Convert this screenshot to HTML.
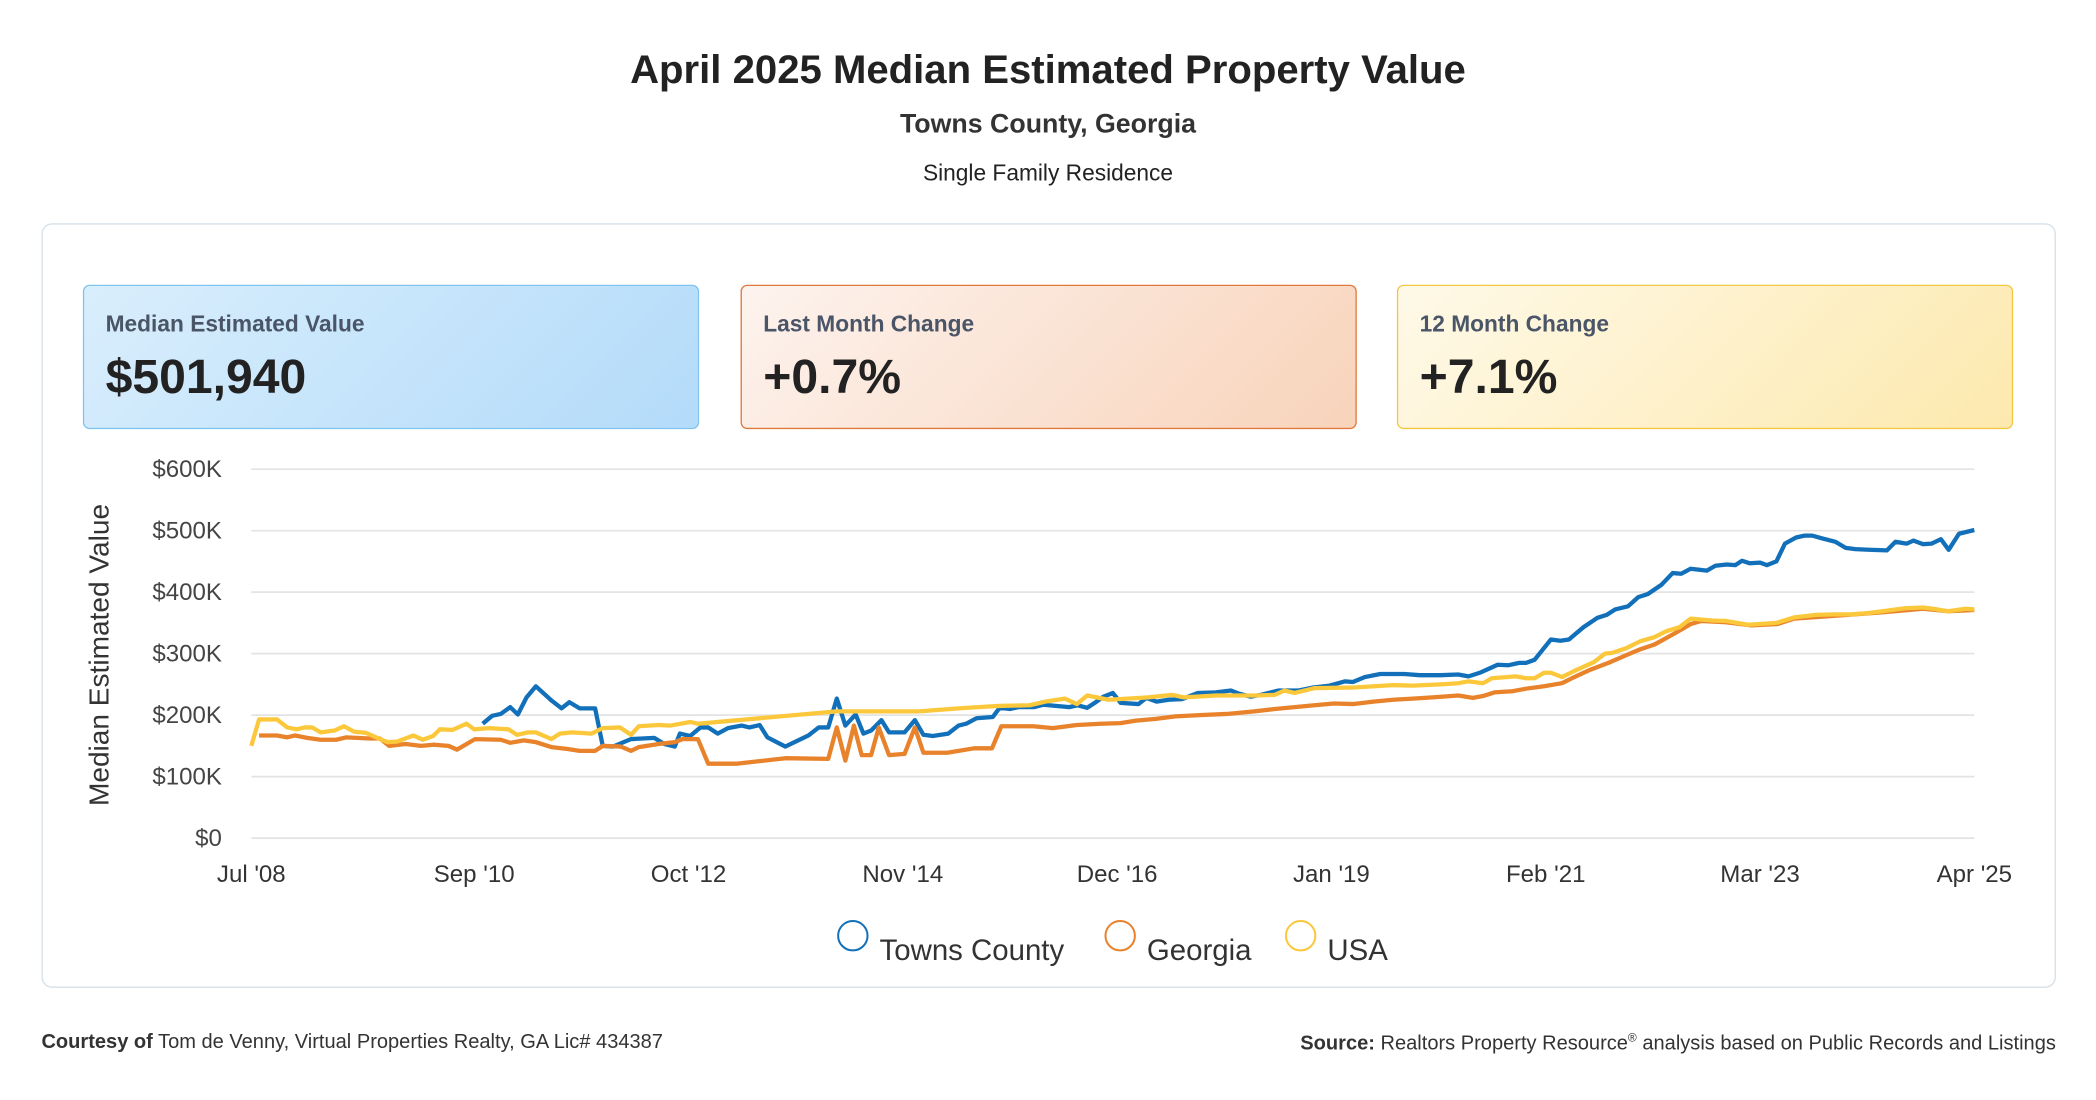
<!DOCTYPE html>
<html><head><meta charset="utf-8"><style>
html,body{margin:0;padding:0;background:#fff;width:2096px;height:1100px;overflow:hidden}
#wrap{position:absolute;left:0;top:0;width:1568px;height:823px;transform:scale(1.33673);transform-origin:0 0;font-family:"Liberation Sans",sans-serif;color:#222}
.t{position:absolute;white-space:nowrap}
.box{position:absolute;top:213px;width:459px;height:106px;border-radius:5px;border:1.5px solid}
.lab{position:absolute;left:16px;top:19px;font-size:17px;font-weight:bold;color:#4a5568}
.val{position:absolute;left:16px;top:47px;font-size:36px;font-weight:bold;color:#222}
</style></head><body>
<div id="wrap">
<div class="t" style="left:0;width:1568px;text-align:center;top:36px;font-size:30px;font-weight:bold">April 2025 Median Estimated Property Value</div>
<div class="t" style="left:0;width:1568px;text-align:center;top:82px;font-size:20px;font-weight:bold;color:#333">Towns County, Georgia</div>
<div class="t" style="left:0;width:1568px;text-align:center;top:120px;font-size:17px">Single Family Residence</div>
<div style="position:absolute;left:31px;top:167px;width:1505px;height:570px;border:1px solid #d6e0e8;border-radius:8px"></div>
<div class="box" style="left:62px;background:linear-gradient(135deg,#d9eefc,#b3dbfa);border-color:#7fc3ef"><div class="lab">Median Estimated Value</div><div class="val">$501,940</div></div>
<div class="box" style="left:554px;background:linear-gradient(135deg,#fdf3ee,#f8d3ba);border-color:#e0783a"><div class="lab">Last Month Change</div><div class="val">+0.7%</div></div>
<div class="box" style="left:1045px;background:linear-gradient(135deg,#fef9e8,#fde9ae);border-color:#f4c740"><div class="lab">12 Month Change</div><div class="val">+7.1%</div></div>
<svg id="chart" width="1568" height="823" style="position:absolute;left:0;top:0"></svg>
<div class="t" style="left:31px;top:771px;font-size:15px;color:#333"><b>Courtesy of</b> Tom de Venny, Virtual Properties Realty, GA Lic# 434387</div>
<div class="t" style="right:30px;top:771px;font-size:15px;color:#333"><b>Source:</b> Realtors Property Resource<sup style="font-size:9px">®</sup> analysis based on Public Records and Listings</div>
</div>
<script>
const yTicks=[0,100,200,300,400,500,600];
const yTickLabels=["$0","$100K","$200K","$300K","$400K","$500K","$600K"];
const xTickMonths=[0,26,51,76,101,126,151,176,201];
const xTickLabels=["Jul '08","Sep '10","Oct '12","Nov '14","Dec '16","Jan '19","Feb '21","Mar '23","Apr '25"];
const seriesNames=["Towns County","Georgia","USA"];
const seriesColors=["#1170b9","#e8832c","#fbc83c"];
const townsData=[[27,186],[28.1,199],[29.1,202],[30.2,213],[31.1,201],[32.1,229],[33.2,247],[35,224],[36.2,211],[37.1,221],[38.3,211],[40.1,211],[41,150],[42.2,149],[44.3,161],[47,163],[48.2,153],[49.4,149],[50,170],[51.2,166],[52.4,180],[53.3,180],[54.4,170],[55.6,179],[57.2,183],[58.1,180],[59.3,184],[60.2,164],[62.3,149],[65,167],[66.2,180],[67.3,180],[68.3,227],[69.3,183],[70.5,201],[71.4,170],[72.3,175],[73.5,192],[74.4,172],[76.2,172],[77.4,192],[78.4,168],[79.5,166],[81.3,170],[82.5,183],[83.4,186],[84.6,195],[86.5,197],[87.3,212],[88.5,210],[89.5,213],[91.3,213],[92.4,217],[95.4,213],[96.4,216],[97.5,212],[98.4,220],[99.4,230],[100.5,236],[101.4,220],[103.5,218],[104.4,228],[105.6,222],[107,225],[108.6,226],[110.4,236],[112.5,237],[114.3,240],[115.2,235],[116.6,230],[117.8,233],[119.8,240],[122.1,240],[123.9,245],[125.8,248],[127.6,255],[128.5,254],[129.9,262],[131.7,267],[134.5,267],[136.3,265],[138.7,265],[140.8,266],[142,263],[143.3,269],[145.4,282],[146.6,281],[147.9,285],[148.7,285],[149.7,290],[151.6,323],[152.7,321],[153.7,323],[155.4,343],[157,358],[158.1,363],[159.1,372],[160.6,377],[161.8,392],[162.9,397],[164.5,412],[165.8,431],[166.8,430],[167.9,438],[169.8,435],[170.8,443],[172.1,445],[173.1,444],[173.9,451],[174.8,447],[176,448],[176.8,444],[177.9,450],[178.9,479],[180.2,489],[181.2,492],[182.1,492],[183.1,488],[184.8,482],[186,472],[187.1,470],[188.7,469],[190.8,468],[191.8,482],[193.1,479],[193.9,484],[195,478],[196,479],[197.1,486],[198,469],[199.2,495],[201,501]];
const georgiaData=[[0.9,167],[3,167],[4.2,164],[5.1,167],[6.5,163],[8.1,160],[9.9,160],[11.1,164],[13.8,162],[15,162],[16.1,150],[18,153],[19.8,150],[21.2,152],[23,150],[24,144],[26.1,161],[29.1,160],[30.2,155],[31.8,159],[33.2,156],[35,148],[36.9,145],[38.3,142],[40.1,142],[41,150],[43.1,149],[44.3,142],[45.2,148],[47.5,153],[49.4,156],[50.3,161],[52.1,161],[53.3,121],[56.7,121],[62.3,130],[67.3,129],[68.3,180],[69.3,126],[70.3,183],[71.2,135],[72.3,135],[73.2,180],[74.4,135],[76.2,137],[77.4,180],[78.4,139],[81.2,139],[84.3,146],[86.4,146],[87.5,182],[91.2,182],[93.5,179],[96.3,184],[99.1,186],[101.4,187],[103.2,191],[105.5,194],[107.8,198],[110.6,200],[113.8,202],[117,206],[119.4,210],[121.7,213],[124,216],[126.3,219],[128.6,218],[130.9,222],[133.2,225],[135.5,227],[137.8,229],[140.8,232],[142.5,228],[143.7,231],[145,237],[147.1,239],[148.7,243],[150.8,247],[152.9,252],[154.5,263],[156.2,274],[158.3,285],[160.8,300],[162,307],[163.7,315],[165.8,331],[167.9,348],[169.1,353],[172,351],[175,346],[178,348],[180,357],[185,362],[190,367],[195,373],[198,369],[201,371]];
const usaData=[[0,150],[0.9,193],[3,193],[4.2,180],[5.3,177],[6.2,180],[7.1,180],[8.1,172],[9.7,175],[10.8,182],[12,173],[13.4,171],[15,161],[15.9,156],[17,157],[18.9,167],[20,160],[21.2,166],[22,177],[23.5,176],[25.1,186],[26,177],[27.7,179],[30,177],[31,168],[32.3,172],[33.2,172],[35,161],[36,170],[37.4,172],[39.7,170],[41,179],[43,180],[44.3,168],[45.2,182],[47.5,184],[48.9,183],[51.2,189],[52.1,186],[68.3,206],[77.9,206],[82.5,211],[87.2,215],[90.8,216],[92.6,222],[94.9,227],[96.3,218],[97.5,232],[100,225],[104.6,229],[107.4,233],[108.8,229],[112.5,232],[117.1,232],[119.4,233],[120.5,240],[121.7,236],[124,244],[128.6,245],[133.2,249],[135.5,248],[138.7,250],[140.8,252],[142,255],[143.7,252],[144.7,260],[147.5,263],[148.7,260],[149.7,260],[150.8,269],[151.6,269],[152.9,262],[154.5,273],[156.6,286],[157.9,300],[158.7,301],[160.4,309],[162,320],[163.7,327],[165,336],[166.6,343],[167.9,357],[170.4,354],[172.1,353],[174.6,347],[177.9,350],[180,359],[182.5,363],[184.6,364],[186.6,364],[188.7,366],[190.8,370],[192.9,374],[195,375],[196.2,373],[197.9,369],[200,373],[201,372]];
const allSeries=[townsData,georgiaData,usaData];
const NS="http://www.w3.org/2000/svg";
const svg=document.getElementById('chart');
const X0=188,X1=1477,Y0=627,Y1=351;
function xs(m){return X0+(m/201)*(X1-X0);}
function ys(v){return Y0-(v/600)*(Y0-Y1);}
function mk(t,a){const e=document.createElementNS(NS,t);for(const k in a)e.setAttribute(k,a[k]);svg.appendChild(e);return e;}
yTicks.forEach((v,i)=>{
  const g=mk('line',{x1:X0,x2:X1,y1:ys(v),y2:ys(v),stroke:'#e3e3e3','stroke-width':1.3});
  
  
  const t=mk('text',{x:166,y:ys(v)+6,'text-anchor':'end','font-size':18,fill:'#444'});
  t.textContent=yTickLabels[i];
  
  
});
xTickMonths.forEach((m,i)=>{
  const t=mk('text',{x:xs(m),y:660,'text-anchor':'middle','font-size':18,fill:'#333'});
  t.textContent=xTickLabels[i];
  
  
});
const yt=mk('text',{x:0,y:0,'text-anchor':'middle','font-size':21,fill:'#333',transform:'translate(81,490) rotate(-90)'});
yt.textContent='Median Estimated Value';


[0,1,2].forEach(i=>{
  const d=allSeries[i].map((p,j)=>(j?'L':'M')+xs(p[0]).toFixed(1)+' '+ys(p[1]).toFixed(1)).join(' ');
  const p=mk('path',{d:d,fill:'none',stroke:seriesColors[i],'stroke-width':3.2,'stroke-linejoin':'round'});
  
  
});
const legX=[638,838,973];
seriesNames.forEach((n,i)=>{
  const c=mk('circle',{cx:legX[i],cy:700,r:11,fill:'none',stroke:seriesColors[i],'stroke-width':1.5});
  
  
  const t=mk('text',{x:legX[i]+20,y:718,'font-size':22,fill:'#333'});
  t.textContent=n;
  
  
});
</script>
</body></html>
